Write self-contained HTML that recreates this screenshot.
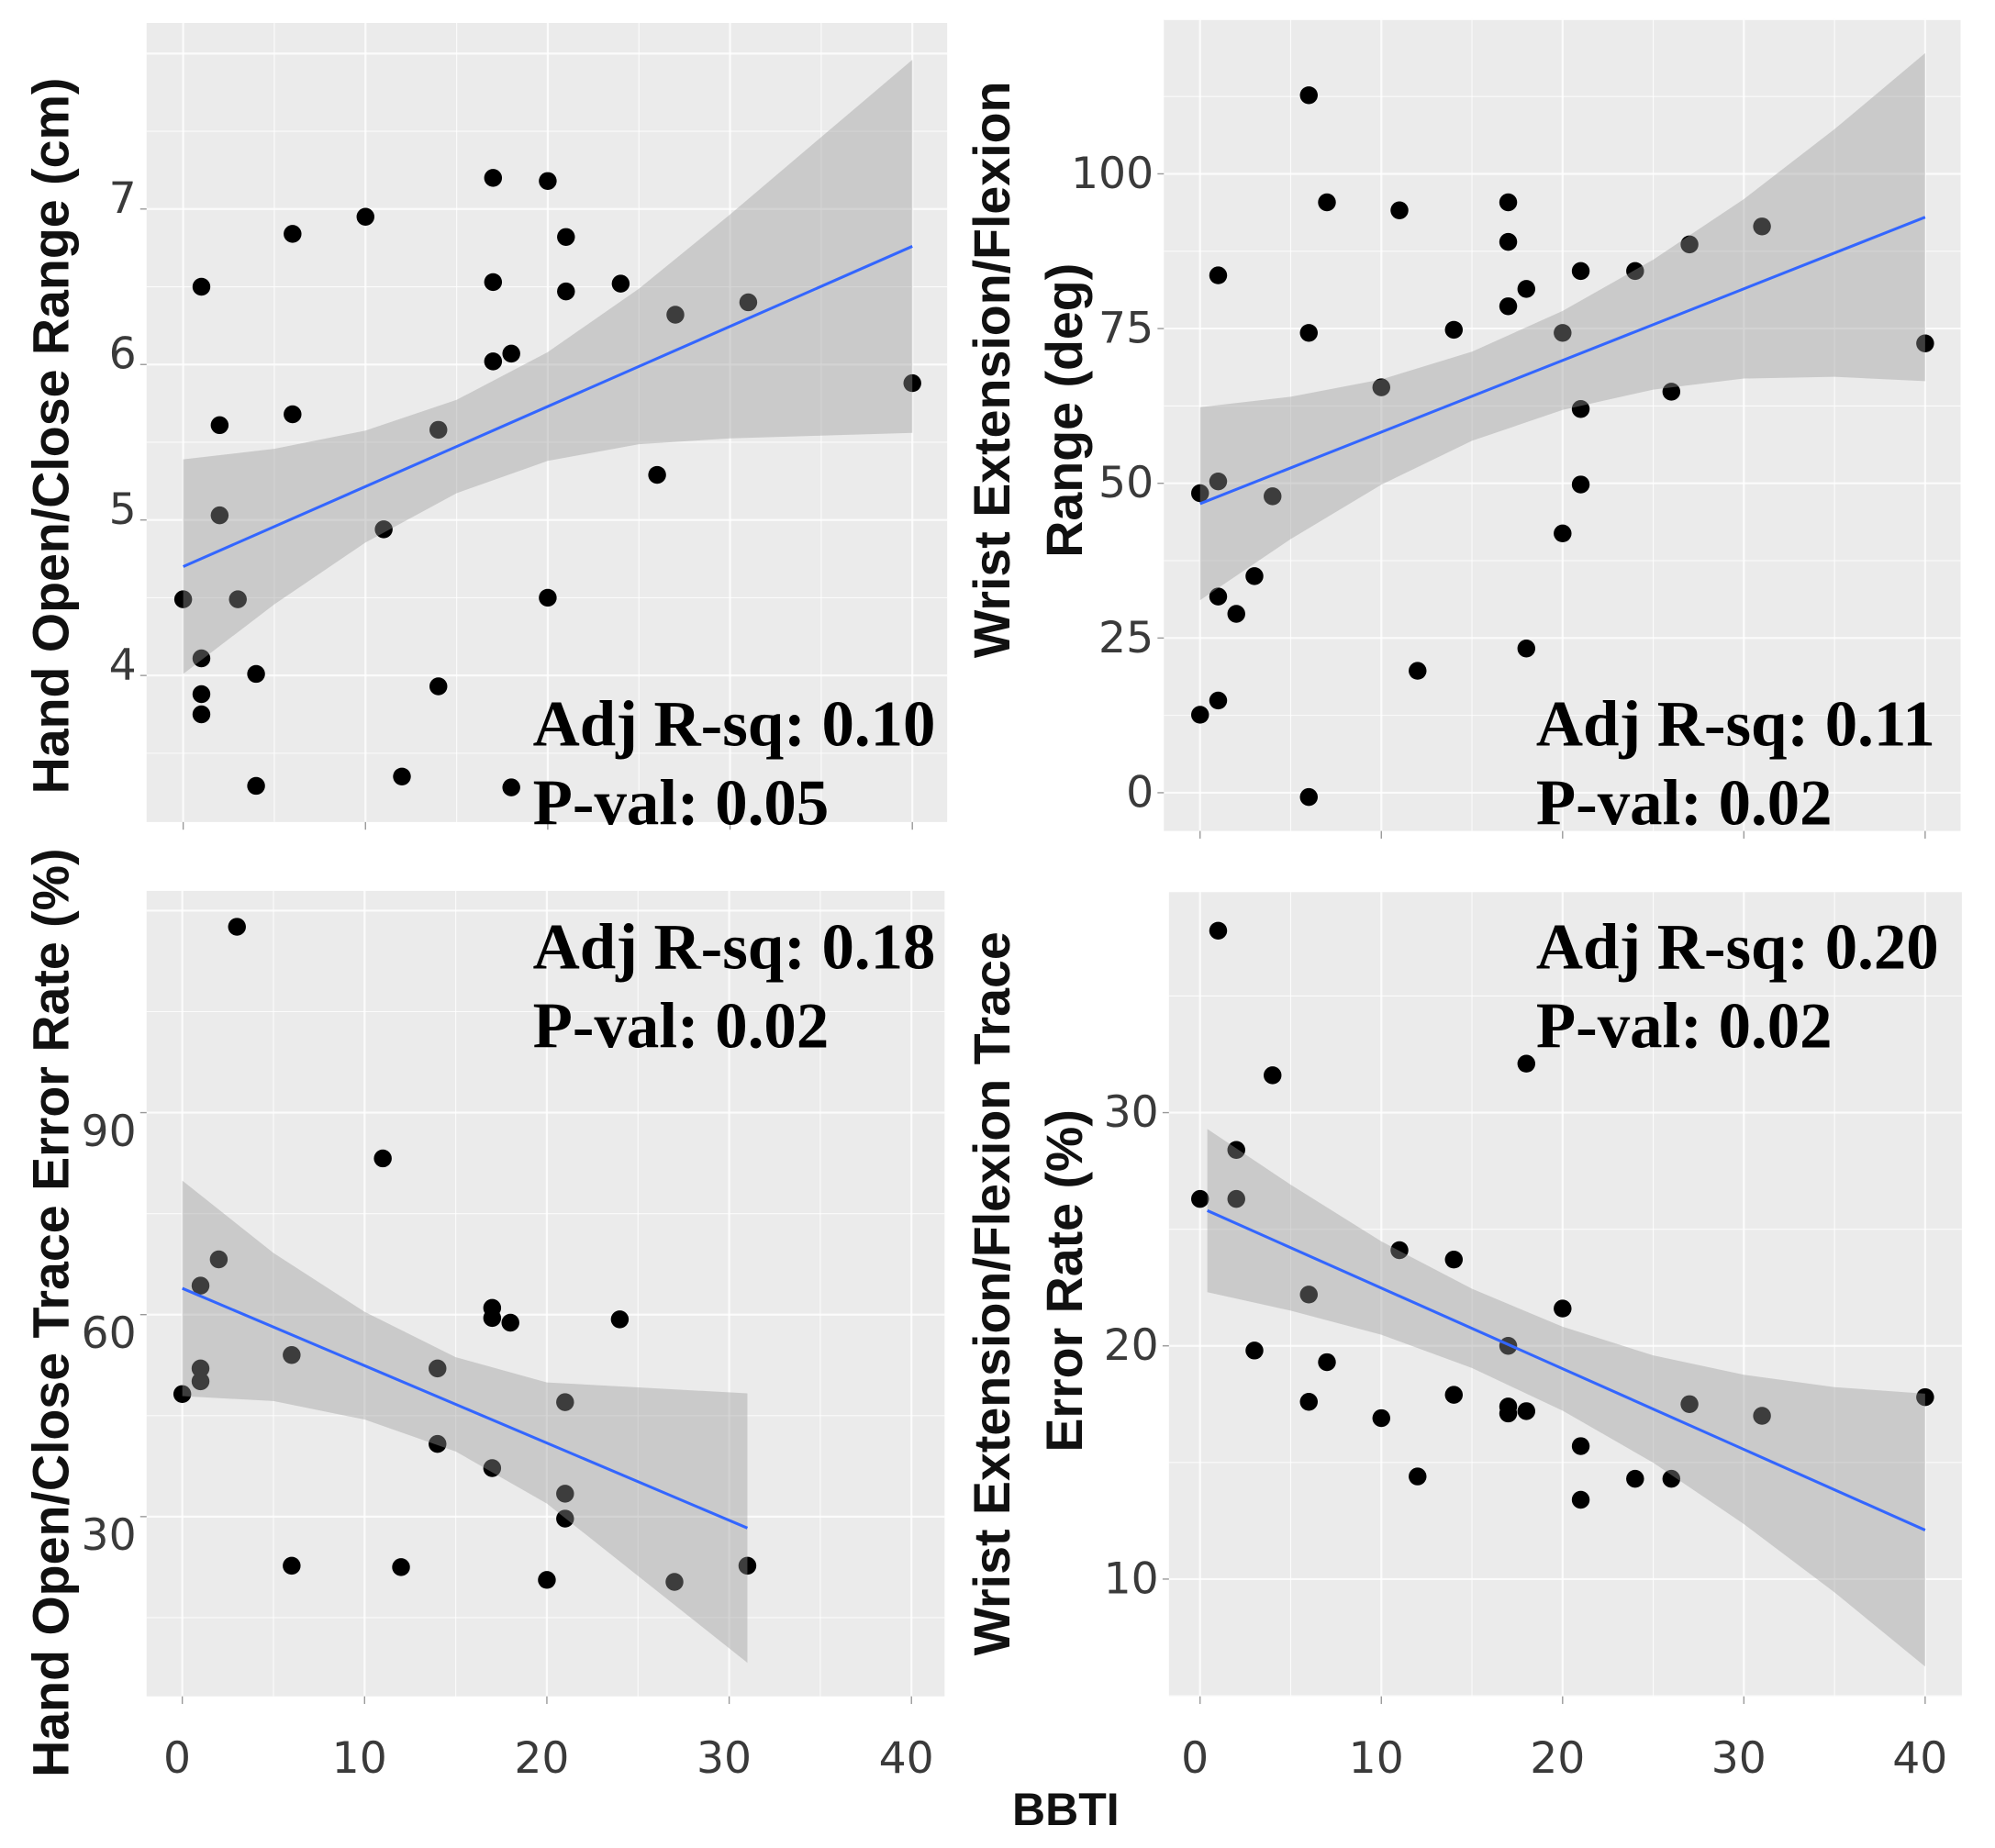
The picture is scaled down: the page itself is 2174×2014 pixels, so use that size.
<!DOCTYPE html>
<html><head><meta charset="utf-8"><style>
html,body{margin:0;padding:0;background:#fff;}
svg{display:block;}
.tick{font-family:"DejaVu Sans","Liberation Sans",sans-serif;font-size:34px;fill:#3a3a3a;}
.atitle{font-family:"Liberation Sans","DejaVu Sans",sans-serif;font-size:40px;font-weight:bold;fill:#111;}
.stat{font-family:"Liberation Serif",serif;font-size:51px;font-weight:bold;fill:#000;}
</style></head><body>
<svg id="fig" width="2174" height="2014" viewBox="0 0 1565 1450" preserveAspectRatio="none" xmlns="http://www.w3.org/2000/svg">
<g id="layer"></g>
<text class="atitle" x="836" y="1432" text-anchor="middle" style="font-size:36px">BBTI</text>
</svg>
<script>
// ---- Panel A: Hand open/close range ----
const aX = [17,20,10,6,21,1,17,21,24,27,31,17,18,40,2,6,14,2,11,26,0,3,20,1,4,1,1,14,4,12,18];
const aY = [7.20,7.18,6.95,6.84,6.82,6.50,6.53,6.47,6.52,6.32,6.40,6.02,6.07,5.88,5.61,5.68,5.58,5.03,4.94,5.29,4.49,4.49,4.50,4.11,4.01,3.88,3.75,3.93,3.29,3.35,3.28];
const aFitX = [0,40];
const aFitY = [4.70,6.76];
const aBandX = [0,5,10,15,20,25,30,35,40];
const aBandHalf = [0.69,0.5,0.36,0.3,0.35,0.5,0.72,0.96,1.2];
const aTicks = [4,5,6,7];
// ---- Panel B: Wrist ext/flex range ----
const bX = [6,7,11,17,17,1,21,24,27,31,18,17,6,14,20,40,10,26,21,0,1,4,21,20,3,1,2,18,12,0,1,6];
const bY = [112.7,95.4,94.1,95.4,89.0,83.6,84.3,84.3,88.6,91.5,81.4,78.6,74.3,74.8,74.3,72.6,65.5,64.8,62.0,48.4,50.3,47.9,49.8,41.9,35.0,31.7,28.9,23.3,19.7,12.6,14.9,-0.7];
const bFitX = [0,40];
const bFitY = [46.7,93.0];
const bBandX = [0,5,10,15,20,25,30,35,40];
const bBandHalf = [15.6,11.5,8.5,7.2,8,10.5,14.5,20,26.5];
const bTicks = [0,25,50,75,100];
// ---- Panel C: Hand trace error ----
const cX = [3,11,2,1,0,1,1,6,6,12,14,14,17,17,18,17,21,21,21,20,24,27,31];
const cY = [117.6,83.2,68.2,64.3,48.2,52.0,50.1,54.0,22.7,22.5,52.0,40.8,61.0,59.5,58.8,37.2,47.0,33.4,29.7,20.6,59.3,20.3,22.7];
const cFitX = [0,31];
const cFitY = [63.9,28.3];
const cBandX = [0,5,10,15,20,25,31];
const cBandHalf = [16,11,8,7,9,14,20];
const cTicks = [30,60,90];
// ---- Panel D: Wrist trace error ----
const dX = [1,4,18,2,0,2,11,14,6,20,17,3,7,6,14,17,17,18,10,27,31,40,21,12,24,26,21];
const dY = [37.8,31.6,32.1,28.4,26.3,26.3,24.1,23.7,22.2,21.6,20.0,19.8,19.3,17.6,17.9,17.4,17.1,17.2,16.9,17.5,17.0,17.8,15.7,14.4,14.3,14.3,13.4];
const dFitX = [0.4,40];
const dFitY = [25.8,12.1];
const dBandX = [0.4,5,10,15,20,25,30,35,40];
const dBandHalf = [3.5,2.7,2.0,1.7,1.8,2.3,3.2,4.4,5.85];
const dTicks = [10,20,30];
const xTicks = [0,10,20,30,40];
const xTickLabels = ['0','10','20','30','40'];

const NS='http://www.w3.org/2000/svg';
const layer=document.getElementById('layer');
function mk(tag,attrs,parent){const e=document.createElementNS(NS,tag);for(const k in attrs)e.setAttribute(k,attrs[k]);(parent||layer).appendChild(e);return e;}

function panel(p){
  const g=mk('g',{});
  
  
  const sx=v=>p.x0+v*p.xu, sy=v=>p.yRef+(p.vRef-v)*p.yu;
  const bg=mk('rect',{x:p.L,y:p.T,width:p.R-p.L,height:p.B-p.T,fill:'#ebebeb'},g);
  
  
  for(let v=-5;v<=45;v+=5){const X=sx(v);if(X<p.L||X>p.R)continue;
    mk('line',{x1:X,x2:X,y1:p.T,y2:p.B,stroke:'#fff','stroke-width':v%10===0?1.6:0.8,opacity:0.8},g);}
  const st=p.ticks[1]-p.ticks[0];
  for(let v=p.ticks[0]-2*st;v<=p.ticks[p.ticks.length-1]+2*st;v+=st/2){const Y=sy(v);if(Y<p.T||Y>p.B)continue;
    mk('line',{x1:p.L,x2:p.R,y1:Y,y2:Y,stroke:'#fff','stroke-width':(Math.round((v-p.ticks[0])/st*2)%2===0)?1.6:0.8,opacity:0.8},g);}
  p.ticks.forEach(v=>{const Y=sy(v);
    mk('line',{x1:p.L-5,x2:p.L,y1:Y,y2:Y,stroke:'#999','stroke-width':1},g);
    const t=mk('text',{x:p.L-8,y:Y+p.lblOff,class:'tick','text-anchor':'end','dominant-baseline':'central'},g);
    t.textContent=String(v);
    
    });
  xTicks.forEach((v,i)=>{const X=sx(v);
    mk('line',{x1:X,x2:X,y1:p.B,y2:p.B+6,stroke:'#999','stroke-width':1},g);
    if(p.xLabels){const t=mk('text',{x:X-4,y:p.B+60,class:'tick','text-anchor':'middle'},g);
      t.textContent=xTickLabels[i];
      
      }});
  p.px.forEach((v,i)=>{const c=mk('circle',{cx:sx(v),cy:sy(p.py[i]),r:7,fill:'#000'},g);
    
    });
  const fy=x=>p.fy[0]+(p.fy[1]-p.fy[0])*(x-p.fx[0])/(p.fx[1]-p.fx[0]);
  let up=[],lo=[];
  p.bx.forEach((x,i)=>{up.push(sx(x)+','+sy(fy(x)+p.bh[i]));lo.unshift(sx(x)+','+sy(fy(x)-p.bh[i]));});
  const band=mk('polygon',{points:up.concat(lo).join(' '),fill:'#999',opacity:0.4},g);
  
  
  const ln=mk('line',{x1:sx(p.fx[0]),y1:sy(p.fy[0]),x2:sx(p.fx[1]),y2:sy(p.fy[1]),stroke:'#3366ff','stroke-width':2.2},g);
  
  
  p.stats.forEach((s,i)=>{const t=mk('text',{x:p.sx,y:p.sy+i*62,class:'stat'},g);t.textContent=s;
    
    });
  p.title.forEach((s,i)=>{const t=mk('text',{x:0,y:0,class:'atitle','text-anchor':'middle',
      transform:'translate('+(p.tx[i])+','+p.ty[i]+') rotate(-90)','dominant-baseline':'central'},g);t.textContent=s;
    
    });
}

panel({name:'panel-hand-range',L:115,R:743,T:18,B:645,x0:143.7,xu:14.3,yRef:164,vRef:7,yu:122,lblOff:-8,ticks:aTicks,xLabels:false,
  px:aX,py:aY,fx:aFitX,fy:aFitY,bx:aBandX,bh:aBandHalf,stats:['Adj R-sq: 0.10','P-val: 0.05'],sx:418,sy:585,
  title:['Hand Open/Close Range (cm)'],tx:[40],ty:[342]});
panel({name:'panel-wrist-range',L:913,R:1538,T:15,B:652,x0:941.4,xu:14.22,yRef:622,vRef:0,yu:4.856,lblOff:0,ticks:bTicks,xLabels:false,
  px:bX,py:bY,fx:bFitX,fy:bFitY,bx:bBandX,bh:bBandHalf,stats:['Adj R-sq: 0.11','P-val: 0.02'],sx:1205,sy:585,
  title:['Wrist Extension/Flexion','Range (deg)'],tx:[778,835],ty:[290,322]});
panel({name:'panel-hand-error',L:115,R:741,T:699,B:1331,x0:143,xu:14.3,yRef:873,vRef:90,yu:5.283,lblOff:15,ticks:cTicks,xLabels:true,
  px:cX,py:cY,fx:cFitX,fy:cFitY,bx:cBandX,bh:cBandHalf,stats:['Adj R-sq: 0.18','P-val: 0.02'],sx:418,sy:760,
  title:['Hand Open/Close Trace Error Rate (%)'],tx:[40],ty:[1030]});
panel({name:'panel-wrist-error',L:917,R:1539,T:700,B:1331,x0:941.4,xu:14.22,yRef:873,vRef:30,yu:18.3,lblOff:0,ticks:dTicks,xLabels:true,
  px:dX,py:dY,fx:dFitX,fy:dFitY,bx:dBandX,bh:dBandHalf,stats:['Adj R-sq: 0.20','P-val: 0.02'],sx:1205,sy:760,
  title:['Wrist Extension/Flexion Trace','Error Rate (%)'],tx:[778,835],ty:[1015,1005]});
</script>
</body></html>
